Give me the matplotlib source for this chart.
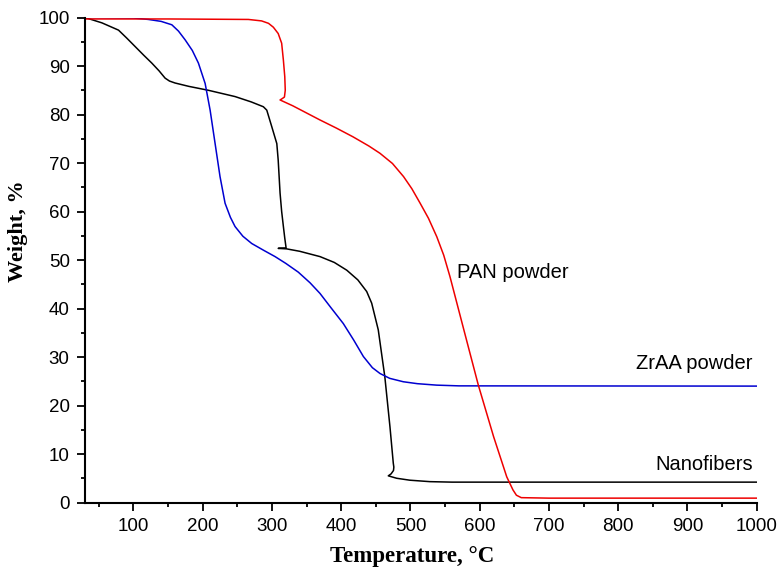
import matplotlib
matplotlib.use('Agg')
import matplotlib.pyplot as plt
from matplotlib.ticker import MultipleLocator

# TGA-Kurven (Temperatur in °C, Gewicht in %)
pan_temp = [30, 150, 266, 285, 295, 302, 309, 314, 316.5, 318.5, 319.2, 318, 314, 311.7, 330, 369, 393,
            417, 440, 456, 474, 490, 502, 514, 526, 538, 548, 557, 576, 598, 620, 639, 648, 653, 660, 700, 1000]
pan_weight = [99.7, 99.7, 99.6, 99.3, 98.8, 98.0, 96.7, 94.7, 91.2, 87.8, 85.0, 83.6, 83.2, 83.0, 81.8, 78.9, 77.2,
              75.4, 73.5, 72.0, 69.9, 67.2, 64.7, 61.7, 58.6, 54.8, 51.0, 46.6, 36.2, 24.2, 13.6, 5.3, 2.6, 1.5,
              1.0, 0.9, 0.9]

zraa_temp = [30, 100, 121.6, 140, 155.4, 165, 174.6, 185, 193.8, 203.5, 210.7, 217.9, 225, 232.3, 240, 246.7,
             258, 270.8, 288, 304.5, 320, 338, 355, 369.4, 385, 403, 418, 432, 445, 456, 470, 489.6, 510,
             537.8, 570, 1000]
zraa_weight = [100, 99.9, 99.6, 99.2, 98.5, 97.2, 95.4, 93.2, 90.6, 86.4, 80.9, 74.0, 67.2, 61.7, 58.8, 56.9,
               54.9, 53.4, 52.0, 50.7, 49.3, 47.5, 45.3, 43.1, 40.2, 36.9, 33.5, 30.1, 27.8, 26.6, 25.6, 24.9, 24.5,
               24.2, 24.05, 24.0]

nano_temp = [30, 54.4, 78.4, 90, 102.5, 115, 126.5, 137, 145.7, 152, 160, 180, 208, 246.7, 270, 287.6, 292.5,
             299.7, 307, 309, 311.7, 314, 316.5, 318.5, 320.4, 309, 321, 340, 369.4, 390, 408, 424, 436.8, 444,
             453.5, 463, 470.4, 475.2, 476, 475.5, 472, 468, 480, 499, 528, 560, 1000]
nano_weight = [100, 98.9, 97.4, 95.8, 94.0, 92.2, 90.6, 89.0, 87.5, 86.9, 86.5, 85.8, 85.0, 83.7, 82.6, 81.6, 80.9,
               77.5, 74.0, 70.6, 63.8, 60, 56.9, 54.5, 52.5, 52.4, 52.3, 51.8, 50.7, 49.5, 47.9, 45.9, 43.5, 41.1,
               35.6, 25.9, 15.6, 8.1, 7.3, 6.6, 5.9, 5.5, 5.0, 4.6, 4.3, 4.2, 4.2]

fig = plt.figure(figsize=(7.84, 5.76), dpi=100)
ax = fig.add_axes([0.1084, 0.1276, 0.8568, 0.842])

ax.plot(nano_temp, nano_weight, color='black', lw=1.1)
ax.plot(zraa_temp, zraa_weight, color='#0000d0', lw=1.1)
ax.plot(pan_temp, pan_weight, color='#ee0000', lw=1.1)

ax.set_xlim(30, 1000)
ax.set_ylim(0, 100)

# Achsen im Origin-Stil
ax.spines['top'].set_visible(False)
ax.spines['right'].set_visible(False)
for s in ['left', 'bottom']:
    ax.spines[s].set_linewidth(1.5)

ax.xaxis.set_major_locator(MultipleLocator(100))
ax.xaxis.set_minor_locator(MultipleLocator(50))
ax.yaxis.set_major_locator(MultipleLocator(10))
ax.yaxis.set_minor_locator(MultipleLocator(5))
ax.tick_params(which='major', direction='out', length=6, width=1.3, labelsize=13.5, pad=5)
ax.tick_params(which='minor', direction='out', length=3, width=1.3)
for lab in ax.get_xticklabels() + ax.get_yticklabels():
    lab.set_family('Liberation Sans')

ax.set_xlabel('Temperature, °C', family='Liberation Serif', fontweight='bold', fontsize=16.5, va='center')
ax.set_ylabel('Weight, %', family='Liberation Serif', fontweight='bold', fontsize=16, va='center')
ax.xaxis.set_label_coords(0.487, -0.112)
ax.yaxis.set_label_coords(-0.099, 0.56)

# Beschriftungen der Kurven
ax.text(567, 47.5, 'PAN powder', family='Liberation Sans', fontsize=14.5, ha='left', va='center')
ax.text(994, 28.7, 'ZrAA powder', family='Liberation Sans', fontsize=14.5, ha='right', va='center')
ax.text(994, 7.9, 'Nanofibers', family='Liberation Sans', fontsize=14.5, ha='right', va='center')

fig.savefig('out.png', dpi=100)
